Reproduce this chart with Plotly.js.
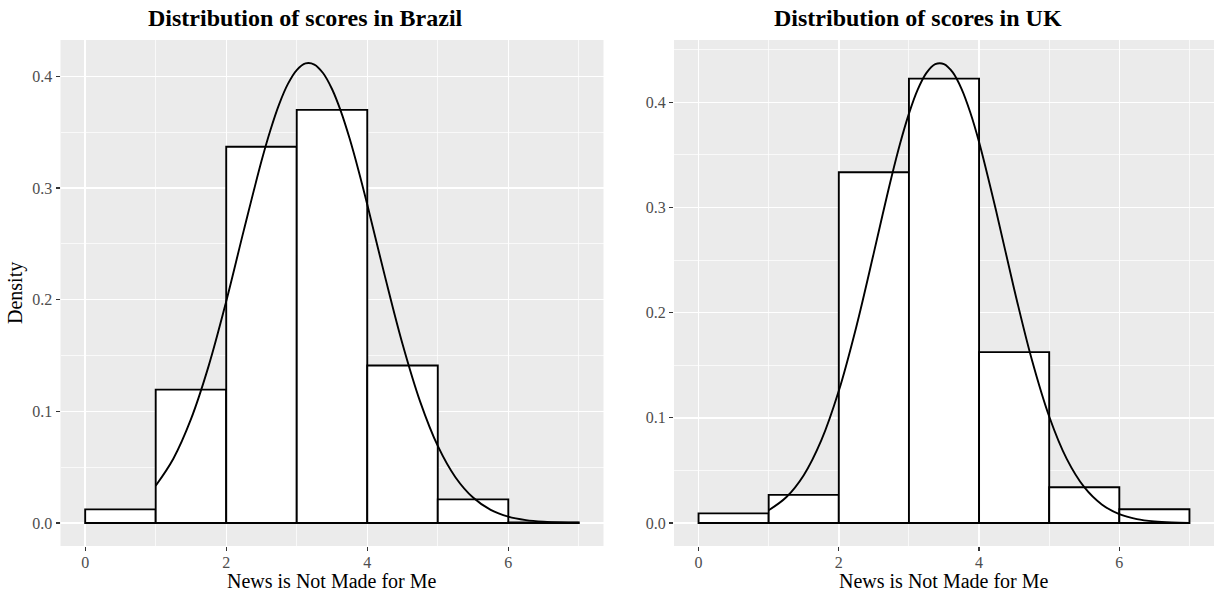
<!DOCTYPE html>
<html><head><meta charset="utf-8">
<script src="https://cdn.plot.ly/plotly-3.0.1.min.js"></script>
<style>html,body{margin:0;padding:0;background:#fff}#chart{width:1214px;height:598px}</style>
</head><body><div id="chart"></div>
<script>
// Histogram bins (left edges, width 1)
const binLeft = [0, 1, 2, 3, 4, 5, 6];
const brazilDensity = [0.0122, 0.1195, 0.3370, 0.3700, 0.1410, 0.0212, 0.0006];
const ukDensity = [0.0092, 0.0268, 0.3335, 0.4225, 0.1625, 0.0341, 0.0132];

// Density curves
const curveX = [1, 1.25, 1.5, 1.75, 2, 2.25, 2.5, 2.625, 2.75, 2.875, 3, 3.125, 3.25, 3.375, 3.5, 3.625, 3.75, 3.875, 4, 4.25, 4.5, 4.75, 5, 5.25, 5.5, 5.75, 6, 6.25, 6.5, 6.75, 7];
const brazilCurve = [0.0334, 0.0576, 0.0930, 0.1405, 0.1985, 0.2623, 0.3242, 0.3516, 0.3750, 0.3933, 0.4057, 0.4116, 0.4106, 0.4028, 0.3887, 0.3689, 0.3443, 0.3160, 0.2853, 0.2211, 0.1603, 0.1087, 0.0690, 0.0410, 0.0228, 0.0118, 0.0057, 0.0026, 0.0011, 0.0004, 0.0002];
const ukCurve = [0.0122, 0.0245, 0.0455, 0.0785, 0.1257, 0.1867, 0.2571, 0.2933, 0.3285, 0.3610, 0.3892, 0.4120, 0.4279, 0.4362, 0.4363, 0.4284, 0.4128, 0.3903, 0.3622, 0.2948, 0.2225, 0.1559, 0.1013, 0.0610, 0.0341, 0.0177, 0.0085, 0.0038, 0.0016, 0.0006, 0.0002];

const titles = ["Distribution of scores in Brazil", "Distribution of scores in UK"];
const xLabel = "News is Not Made for Me";
const yLabel = "Density";

const serif = "Liberation Serif";
const barStyle = {color: "#FFFFFF", line: {color: "#000000", width: 1.9}};
const curveLine = {color: "#000000", width: 1.9, shape: "spline", smoothing: 1};

const traces = [
  {type: "bar", x: binLeft, y: brazilDensity, width: 1, offset: 0, marker: barStyle, xaxis: "x", yaxis: "y", hoverinfo: "skip"},
  {type: "scatter", mode: "lines", x: curveX, y: brazilCurve, line: curveLine, xaxis: "x", yaxis: "y", hoverinfo: "skip"},
  {type: "bar", x: binLeft, y: ukDensity, width: 1, offset: 0, marker: barStyle, xaxis: "x2", yaxis: "y2", hoverinfo: "skip"},
  {type: "scatter", mode: "lines", x: curveX, y: ukCurve, line: curveLine, xaxis: "x2", yaxis: "y2", hoverinfo: "skip"}
];

function xAxis(domain, anchor) {
  return {
    domain: domain, anchor: anchor, range: [-0.35, 7.35],
    tickmode: "linear", tick0: 0, dtick: 2,
    showgrid: true, gridcolor: "#FFFFFF", gridwidth: 1.4,
    minor: {tick0: 1, dtick: 2, showgrid: true, gridcolor: "#FFFFFF", gridwidth: 0.7, ticks: ""},
    zeroline: false, showline: false,
    ticks: "outside", ticklen: 4, tickwidth: 1.2, tickcolor: "#333333",
    ticklabelstandoff: -2,
    tickfont: {family: serif, size: 16, color: "#4D4D4D"}
  };
}
function yAxis(domain, anchor, range) {
  return {
    domain: domain, anchor: anchor, range: range,
    tickmode: "linear", tick0: 0, dtick: 0.1, tickformat: ".1f",
    showgrid: true, gridcolor: "#FFFFFF", gridwidth: 1.4,
    minor: {tick0: 0.05, dtick: 0.1, showgrid: true, gridcolor: "#FFFFFF", gridwidth: 0.7, ticks: ""},
    zeroline: false, showline: false,
    ticks: "outside", ticklen: 4, tickwidth: 1.2, tickcolor: "#333333",
    tickfont: {family: serif, size: 16, color: "#4D4D4D"}
  };
}

const yDom = [52 / 598, 558 / 598];
const layout = {
  width: 1214, height: 598,
  margin: {l: 0, r: 0, t: 0, b: 0},
  paper_bgcolor: "#FFFFFF", plot_bgcolor: "#EBEBEB",
  font: {family: serif},
  showlegend: false, bargap: 0,
  xaxis: xAxis([60.5 / 1214, 603.5 / 1214], "y"),
  yaxis: yAxis(yDom, "x", [-0.0206, 0.4326]),
  xaxis2: xAxis([674 / 1214, 1], "y2"),
  yaxis2: yAxis(yDom, "x2", [-0.0218, 0.4592]),
  annotations: [
    {text: "<b>" + titles[0] + "</b>", xref: "paper", yref: "paper", x: 305.5 / 1214, y: (598 - 18) / 598, xanchor: "center", yanchor: "middle", showarrow: false, font: {family: serif, size: 24, color: "#000000"}},
    {text: "<b>" + titles[1] + "</b>", xref: "paper", yref: "paper", x: 918 / 1214, y: (598 - 18) / 598, xanchor: "center", yanchor: "middle", showarrow: false, font: {family: serif, size: 24, color: "#000000"}},
    {text: xLabel, xref: "paper", yref: "paper", x: 332 / 1214, y: (598 - 581) / 598, xanchor: "center", yanchor: "middle", showarrow: false, font: {family: serif, size: 20, color: "#000000"}},
    {text: xLabel, xref: "paper", yref: "paper", x: 944 / 1214, y: (598 - 581) / 598, xanchor: "center", yanchor: "middle", showarrow: false, font: {family: serif, size: 20, color: "#000000"}},
    {text: yLabel, xref: "paper", yref: "paper", x: 15 / 1214, y: (598 - 293) / 598, xanchor: "center", yanchor: "middle", textangle: -90, showarrow: false, font: {family: serif, size: 20, color: "#000000"}}
  ]
};

Plotly.newPlot("chart", traces, layout, {displayModeBar: false, staticPlot: true});
</script>
</body></html>
